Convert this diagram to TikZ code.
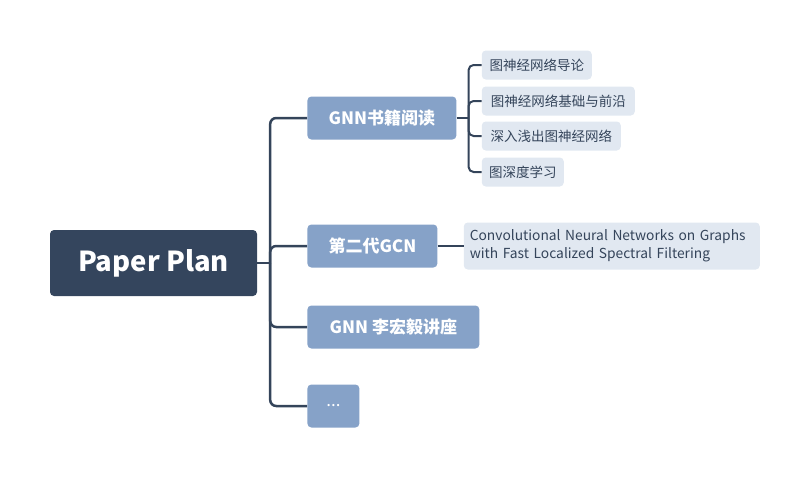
\documentclass[tikz,border=0pt]{standalone}
\usepackage{fontspec}
\setmainfont{Noto Sans CJK SC}
\usetikzlibrary{positioning}
\definecolor{rootblue}{HTML}{34455D}
\definecolor{mainblue}{HTML}{86A2C8}
\definecolor{leafgrey}{HTML}{E1E8F1}
\definecolor{linegrey}{HTML}{34445A}

\begin{document}
\begin{tikzpicture}[x=1pt,y=1pt,
    root node/.style={rectangle,rounded corners=4pt,fill=rootblue,text=white,inner sep=0pt,
      minimum width=207pt,minimum height=66pt,font=\fontsize{27.5}{32}\selectfont\bfseries},
    main node/.style={rectangle,rounded corners=4pt,fill=mainblue,text=white,inner sep=0pt,
      minimum height=43pt,font=\fontsize{17}{20}\selectfont\bfseries},
    leaf node/.style={rectangle,rounded corners=4pt,fill=leafgrey,text=linegrey,inner sep=0pt,
      minimum height=29pt,font=\fontsize{13.5}{17}\selectfont},
    trunk/.style={draw=linegrey,line width=2.5pt,rounded corners=6pt},
    twig/.style={draw=linegrey,line width=2pt,rounded corners=5pt}]
    \useasboundingbox (0,0) rectangle (809,-479);
    % nodes
      \node[root node] (root) at (153.5,-263) {Paper Plan};
      \node[main node,minimum width=149pt] (book) [right = 50pt of root, yshift=145pt] {GNN书籍阅读};
      \node[main node,minimum width=130pt] (gcn) [right = 50pt of root, yshift=17pt] {第二代GCN};
      \node[main node,minimum width=172pt] (talk) [right = 50pt of root, yshift=-64pt] {GNN 李宏毅讲座};
      \node[main node,minimum width=52pt,font=\fontsize{17}{20}\selectfont] (more) [right = 50pt of root, yshift=-143pt] {...};
      \node[leaf node,minimum width=110pt] (b1) [right = 25pt of book, yshift=53pt] {图神经网络导论};
      \node[leaf node,minimum width=153pt] (b2) [right = 25pt of book, yshift=17pt] {图神经网络基础与前沿};
      \node[leaf node,minimum width=139pt] (b3) [right = 25pt of book, yshift=-18pt] {深入浅出图神经网络};
      \node[leaf node,minimum width=82pt] (b4) [right = 25pt of book, yshift=-54pt] {图深度学习};
      \node[leaf node,minimum height=47pt,inner xsep=6pt,text width=284pt,align=left,
        font=\fontsize{13.8}{18}\selectfont] (paper) [right = 26pt of gcn]
        {Convolutional Neural Networks on Graphs\\with Fast Localized Spectral Filtering};
      \coordinate[right = 13pt of root] (fork);
      \coordinate[right = 12pt of book] (bookfork);
      %edges
      \draw[trunk] (root) -- (fork);
      \foreach \n in {book,gcn,talk,more}
        \draw[trunk] (fork) |- (\n);
      \draw[twig] (book) -- (bookfork);
      \foreach \n in {b1,b2,b3,b4}
        \draw[twig] (bookfork) |- (\n);
      \draw[twig] (gcn) -- (paper);
\end{tikzpicture}
\end{document}
